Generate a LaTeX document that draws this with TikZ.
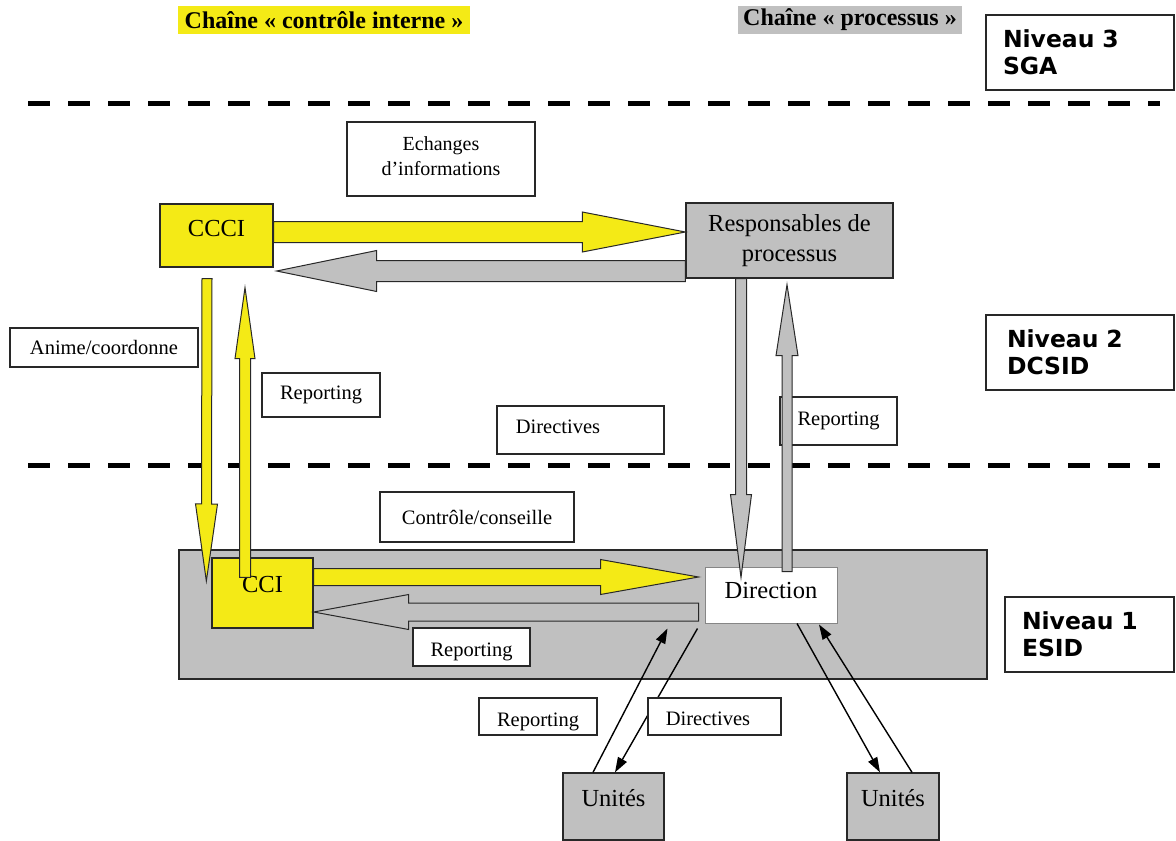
\documentclass[tikz,border=0pt]{standalone}
\usepackage{fontspec}
\setmainfont{Liberation Serif}
\newfontfamily\nivfont{DejaVu Sans}
\usetikzlibrary{calc,arrows.meta}
\definecolor{jaune}{RGB}{244,234,22}
\definecolor{gris}{RGB}{192,192,192}
\definecolor{trait}{RGB}{40,40,40}
% #1 style, #2 from, #3 to (tip), #4 half shaft, #5 half head, #6 head length
\newcommand\blockarrow[6]{%
  \coordinate (bah) at ($(#3)!#6!(#2)$);
  \draw[#1] ($(#2)!#4!90:(#3)$) -- ($(bah)!#4!90:(#3)$) -- ($(bah)!#5!90:(#3)$) -- (#3)
     -- ($(bah)!#5!-90:(#3)$) -- ($(bah)!#4!-90:(#3)$) -- ($(#2)!#4!-90:(#3)$) -- cycle;}
\begin{document}
\begin{tikzpicture}[x=1pt,y=-1pt,
  dashline/.style={line width=5pt, dash pattern=on 22pt off 18pt},
  boxed/.style={draw=trait, line width=1.3pt, inner sep=0pt},
  lbl/.style={boxed, fill=white, font=\fontsize{20.5}{24}\selectfont},
  big/.style={font=\fontsize{24.5}{30}\selectfont},
  ttl/.style={inner sep=0pt, font=\fontsize{24}{27}\selectfont\bfseries},
  niveau/.style={boxed, fill=white, align=left, font=\nivfont\bfseries\fontsize{23.5}{27}\selectfont},
  yarrow/.style={fill=jaune, draw=trait, line width=1pt, line join=miter},
  garrow/.style={fill=gris, draw=trait, line width=1pt, line join=miter},
  thinarrow/.style={line width=1.4pt, -{Triangle[length=15pt,width=10pt]}}]
\useasboundingbox (0,0) rectangle (1176,841);

% level separators
\draw[dashline] (28,103) -- (1160,103);
\draw[dashline] (28,465) -- (1160,465);

% titles
\node[ttl, fill=jaune, minimum width=292, minimum height=28] (t1) at (324,20) {Chaîne « contrôle interne »};
\node[ttl, fill=gris, minimum width=224, minimum height=28] (t2) at (850,20) {Chaîne « processus »};

% levels
\node[niveau, minimum width=188, minimum height=75, text width=154] (n3) at (1080,52.5) {Niveau 3\\SGA};
\node[niveau, minimum width=188, minimum height=75, text width=146] (n2) at (1080,352.5) {Niveau 2\\DCSID};
\node[niveau, minimum width=169, minimum height=75, text width=135] (n1) at (1089.5,634.5) {Niveau 1\\ESID};

% level 2 boxes
\node[boxed, fill=white, minimum width=188, minimum height=74] (ech) at (441,159) {};
\node[font=\fontsize{20}{25}\selectfont, align=center] at ($(ech)+(0,-3)$) {Echanges\\d’informations};
\node[boxed, fill=jaune, minimum width=113, minimum height=63] (ccci) at (216.5,235.5) {};
\node[big] at ($(ccci)+(0,-7)$) {CCCI};
\node[boxed, fill=gris, minimum width=207, minimum height=75, align=center, big] (resp) at (789.5,240.5) {Responsables de\\processus};
\node[lbl, minimum width=188, minimum height=39] (anime) at (104,347.5) {Anime/coordonne};
\node[lbl, minimum width=118, minimum height=44] (rep1) at (321,395) {Reporting};
\node[lbl, minimum width=167, minimum height=48] (dirm) at (580.5,430) {};
\node[font=\fontsize{20.5}{24}\selectfont, anchor=west] at ($(dirm.west)+(16,-3)$) {Directives};
\node[lbl, minimum width=117, minimum height=48] (rep2) at (838.5,421) {Reporting};
\node[lbl, minimum width=194, minimum height=50] (cc) at (477,517) {Contrôle/conseille};

% level 1
\node[boxed, fill=gris, minimum width=808, minimum height=129] (esid) at (583,614.5) {};
\node[boxed, fill=jaune, minimum width=101, minimum height=70] (cci) at (262.5,593) {};
\node[big] at ($(cci)+(0,-8)$) {CCI};
\node[draw=gris!70!black, line width=1pt, fill=white, inner sep=0pt, minimum width=132, minimum height=56] (dir) at (771,595) {};
\node[big] at ($(dir)+(0,-4)$) {Direction};

% block arrows
\coordinate (a1s) at ($(ccci.east)+(0,-3.5)$);
\coordinate (a1e) at ($(resp.west)+(0,-8.5)$);
\blockarrow{yarrow}{a1s}{a1e}{10.5pt}{20pt}{103pt}
\coordinate (a2s) at ($(resp.west)+(0,30.5)$);
\coordinate (a2e) at ($(ccci.east)+(3,35.5)$);
\blockarrow{garrow}{a2s}{a2e}{10.5pt}{20.5pt}{100pt}
\coordinate (a3s) at ($(ccci.south)+(-9.5,11)$);
\coordinate (a3e) at ($(cci.west)+(-5,-12)$);
\blockarrow{yarrow}{a3s}{a3e}{5pt}{11pt}{77pt}
\coordinate (a4s) at ($(cci.north)+(-17.5,20)$);
\coordinate (a4e) at ($(ccci.south)+(28.5,20)$);
\blockarrow{yarrow}{a4s}{a4e}{5.5pt}{10pt}{71pt}
\coordinate (a5s) at ($(resp.south)+(-48.5,0)$);
\coordinate (a5e) at ($(dir.north)+(-30,11)$);
\blockarrow{garrow}{a5s}{a5e}{5.5pt}{10.5pt}{83pt}
\coordinate (a6s) at ($(dir.north)+(16,5)$);
\coordinate (a6e) at ($(resp.south)+(-2.5,6)$);
\blockarrow{garrow}{a6s}{a6e}{5pt}{11pt}{71pt}
\coordinate (a7s) at ($(cci.east)+(0,-16)$);
\coordinate (a7e) at ($(dir.west)+(-6,-18)$);
\blockarrow{yarrow}{a7s}{a7e}{8.5pt}{17.5pt}{98pt}
\coordinate (a8s) at ($(dir.west)+(-6,17)$);
\coordinate (a8e) at ($(cci.east)+(0,19)$);
\blockarrow{garrow}{a8s}{a8e}{9pt}{17.5pt}{95pt}

% units
\node[boxed, fill=gris, minimum width=101, minimum height=67] (u1) at (613.5,806.5) {};
\node[big] at ($(u1)+(0,-8)$) {Unités};
\node[boxed, fill=gris, minimum width=92, minimum height=67] (u2) at (893,806.5) {};
\node[big] at ($(u2)+(0,-8)$) {Unités};

% thin arrows
\coordinate (r1s) at ($(u1.north)+(-20.5,0)$);
\coordinate (r1e) at ($(dir.south west)+(-37,5)$);
\draw[thinarrow] (r1s) -- (r1e);
\coordinate (d1s) at ($(dir.south west)+(-7,5)$);
\coordinate (d1e) at ($(u1.north)+(1.5,0)$);
\draw[thinarrow] (d1s) -- (d1e);
\coordinate (d2s) at ($(dir.south)+(26,0)$);
\coordinate (d2e) at ($(u2.north)+(-13,0)$);
\draw[thinarrow] (d2s) -- (d2e);
\coordinate (r2s) at ($(u2.north)+(19,0)$);
\coordinate (r2e) at ($(dir.south)+(48,1)$);
\draw[thinarrow] (r2s) -- (r2e);

% labels over lines
\node[lbl, minimum width=117, minimum height=38] (rep3) at (471.5,647) {};
\begin{scope}
  \clip (rep3.south west) rectangle (rep3.north east);
  \node[font=\fontsize{20.5}{24}\selectfont] at ($(rep3)+(0,5)$) {Reporting};
\end{scope}
\node[lbl, minimum width=118, minimum height=37] (rep4) at (538,716.5) {};
\begin{scope}
  \clip (rep4.south west) rectangle (rep4.north east);
  \node[font=\fontsize{20.5}{24}\selectfont] at ($(rep4)+(0,5)$) {Reporting};
\end{scope}
\node[lbl, minimum width=133, minimum height=37] (dir4) at (714.5,716.5) {};
\node[font=\fontsize{20.5}{24}\selectfont] at ($(dir4)+(-6.5,2)$) {Directives};
\end{tikzpicture}
\end{document}
